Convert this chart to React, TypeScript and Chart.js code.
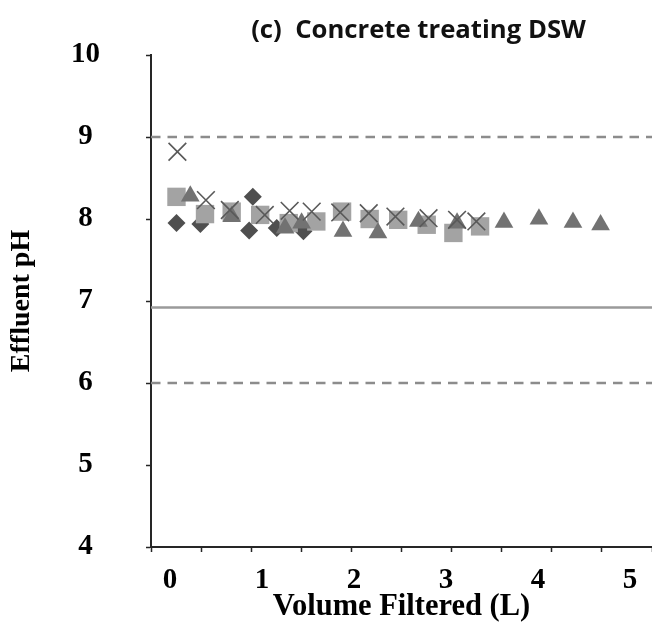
import React, { useEffect, useRef } from "react";
import { Chart, registerables } from "chart.js";

Chart.register(...registerables);

const TITLE = "(c)  Concrete treating DSW";
const X_TITLE = "Volume Filtered (L)";
const Y_TITLE = "Effluent pH";

const X_MIN = -0.207;
const X_MAX = 5.239;
const X_TICK_LABELS = [0, 1, 2, 3, 4, 5];
const X_MINOR_MIN = 0;
const X_MINOR_MAX = 10;
const Y_MIN = 4;
const Y_MAX = 10;

const UPPER_LIMIT = 9;
const LOWER_LIMIT = 6;
const INFLUENT_PH = 6.92;

const diamondX = [0.07, 0.33, 0.86, 0.9, 1.16, 1.45];
const diamondY = [7.95, 7.94, 7.86, 8.27, 7.89, 7.85];

const squareX = [0.07, 0.38, 0.67, 0.98, 1.29, 1.59, 1.87, 2.17, 2.48, 2.79, 3.08, 3.37];
const squareY = [8.27, 8.06, 8.09, 8.05, 7.95, 7.97, 8.09, 8.0, 7.99, 7.93, 7.83, 7.91];

const triangleX = [0.22, 0.67, 1.25, 1.43, 1.88, 2.26, 2.7, 3.12, 3.63, 4.01, 4.38, 4.68];
const triangleY = [8.28, 8.03, 7.89, 7.95, 7.85, 7.83, 7.97, 7.95, 7.96, 8.0, 7.96, 7.93];

const crossX = [0.08, 0.39, 0.65, 1.03, 1.3, 1.54, 1.85, 2.16, 2.45, 2.81, 3.12, 3.33];
const crossY = [8.82, 8.23, 8.11, 8.05, 8.1, 8.09, 8.08, 8.07, 8.03, 8.01, 7.99, 7.97];

const pts = (xs: number[], ys: number[]) => xs.map((x, i) => ({ x, y: ys[i] }));
const hline = (y: number) => [
  { x: X_MIN, y },
  { x: X_MAX, y },
];

const titlePlugin = {
  id: "customTitle",
  afterDraw(chart: any) {
    const { ctx, chartArea } = chart;
    ctx.save();
    ctx.font = 'bold 25.7px "Open Sans"';
    ctx.fillStyle = "#111111";
    ctx.textAlign = "center";
    ctx.textBaseline = "middle";
    const cx = chartArea.left + (chartArea.right - chartArea.left) * 0.534;
    ctx.fillText(TITLE, cx, chartArea.top - 24);
    ctx.restore();
  },
};

const noPad = (s: any) => {
  s.paddingLeft = 0;
  s.paddingRight = 0;
  s.paddingTop = 0;
  s.paddingBottom = 0;
};

export default function App() {
  const ref = useRef<HTMLCanvasElement>(null);

  useEffect(() => {
    if (!ref.current) return;
    const serif = '"Liberation Serif", "Times New Roman", serif';
    const chart = new Chart(ref.current, {
      type: "scatter",
      data: {
        datasets: [
          {
            label: "upper",
            data: hline(UPPER_LIMIT),
            showLine: true,
            borderColor: "#8c8c8c",
            borderWidth: 2.5,
            borderDash: [9.5, 7],
            pointRadius: 0,
            order: 10,
          },
          {
            label: "lower",
            data: hline(LOWER_LIMIT),
            showLine: true,
            borderColor: "#8c8c8c",
            borderWidth: 2.5,
            borderDash: [9.5, 7],
            pointRadius: 0,
            order: 10,
          },
          {
            label: "influent",
            data: hline(INFLUENT_PH),
            showLine: true,
            borderColor: "#9a9a9a",
            borderWidth: 2.5,
            pointRadius: 0,
            order: 10,
          },
          {
            label: "diamond",
            data: pts(diamondX, diamondY),
            pointStyle: "rectRot",
            pointRadius: 9,
            backgroundColor: "#4f4f4f",
            borderColor: "#4f4f4f",
            borderWidth: 0,
            order: 4,
          },
          {
            label: "square",
            data: pts(squareX, squareY),
            pointStyle: "rect",
            pointRadius: 13,
            backgroundColor: "#a3a3a3",
            borderColor: "#a3a3a3",
            borderWidth: 0,
            order: 3,
          },
          {
            label: "triangle",
            data: pts(triangleX, triangleY),
            pointStyle: "triangle",
            pointRadius: 10.8,
            backgroundColor: "#727272",
            borderColor: "#727272",
            borderWidth: 0,
            order: 2,
          },
          {
            label: "cross",
            data: pts(crossX, crossY),
            pointStyle: "crossRot",
            pointRadius: 12.5,
            backgroundColor: "#595959",
            borderColor: "#595959",
            borderWidth: 1.6,
            order: 1,
          },
        ],
      },
      options: {
        animation: false,
        responsive: false,
        maintainAspectRatio: false,
        devicePixelRatio: 1,
        layout: { autoPadding: false, padding: { top: 55, left: 0, right: 0, bottom: 0 } },
        plugins: {
          legend: { display: false },
          tooltip: { enabled: false },
          title: { display: false },
        },
        scales: {
          x: {
            type: "linear",
            position: "bottom",
            weight: 10,
            min: X_MIN,
            max: X_MAX,
            afterBuildTicks: (s: any) => {
              s.ticks = X_TICK_LABELS.map((v) => ({ value: v }));
            },
            afterFit: (s: any) => {
              s.height = 79;
              noPad(s);
            },
            grid: { display: false, drawTicks: false, tickLength: 0 },
            border: { display: false },
            ticks: {
              padding: 11,
              color: "#000000",
              font: { family: serif, size: 29, weight: "bold" },
              callback: (v: any) => String(v),
            },
            title: {
              display: true,
              text: X_TITLE,
              color: "#000000",
              font: { family: serif, size: 30.5, weight: "bold" },
              padding: { top: 0, bottom: 6 },
            },
          },
          xt: {
            type: "linear",
            position: "bottom",
            weight: 0,
            min: X_MINOR_MIN,
            max: X_MINOR_MAX,
            afterFit: (s: any) => {
              s.height = 5;
              noPad(s);
            },
            ticks: { display: false, stepSize: 1 },
            grid: {
              display: true,
              drawOnChartArea: false,
              drawTicks: true,
              tickLength: 5,
              tickColor: "#262626",
              tickWidth: 1.5,
            },
            border: { display: true, color: "#262626", width: 2 },
          },
          y: {
            type: "linear",
            position: "left",
            min: Y_MIN,
            max: Y_MAX,
            afterFit: (s: any) => {
              s.width = 151;
              noPad(s);
            },
            ticks: {
              stepSize: 1,
              padding: 46,
              crossAlign: "center",
              color: "#000000",
              font: { family: serif, size: 29, weight: "bold" },
            },
            grid: {
              display: true,
              drawOnChartArea: false,
              drawTicks: true,
              tickLength: 5,
              tickColor: "#262626",
              tickWidth: 1.5,
            },
            border: { display: true, color: "#262626", width: 2 },
            title: {
              display: true,
              text: Y_TITLE,
              color: "#000000",
              font: { family: serif, size: 28, weight: "bold" },
              padding: { top: 5, bottom: 0 },
            },
          },
        },
      },
      plugins: [titlePlugin],
    });
    return () => chart.destroy();
  }, []);

  return (
    <div style={{ position: "absolute", left: 0, top: 0, width: 652, height: 631, overflow: "hidden" }}>
      <canvas ref={ref} width={652} height={631} style={{ display: "block", width: 652, height: 631 }} />
    </div>
  );
}
